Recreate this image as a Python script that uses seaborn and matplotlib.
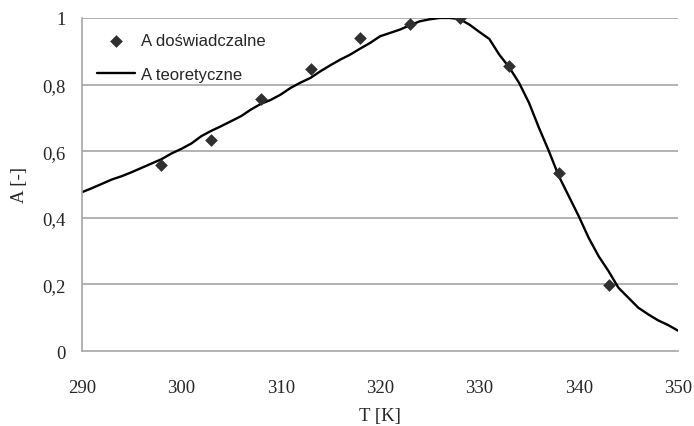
import numpy as np
import pandas as pd
import seaborn as sns
import matplotlib.pyplot as plt

# Measured points
t_exp = [298, 303, 308, 313, 318, 323, 328, 333, 338, 343]
a_exp = [0.559, 0.635, 0.757, 0.847, 0.940, 0.982, 1.000, 0.857, 0.535, 0.197]

# Theoretical curve
t_theo = list(range(290, 351))
a_theo = [0.477, 0.489, 0.502, 0.515, 0.525, 0.537, 0.550, 0.563, 0.576, 0.593,
          0.607, 0.623, 0.645, 0.661, 0.675, 0.690, 0.705, 0.725, 0.742, 0.754,
          0.770, 0.790, 0.806, 0.820, 0.840, 0.858, 0.875, 0.890, 0.908, 0.925,
          0.945, 0.955, 0.965, 0.978, 0.990, 0.996, 1.000, 1.000, 0.997, 0.980,
          0.958, 0.937, 0.890, 0.852, 0.805, 0.745, 0.670, 0.600, 0.525, 0.465,
          0.405, 0.340, 0.285, 0.240, 0.190, 0.160, 0.130, 0.110, 0.092, 0.078,
          0.061]

x_ticks = [290, 300, 310, 320, 330, 340, 350]
y_ticks = [0, 0.2, 0.4, 0.6, 0.8, 1.0]
y_labels = ['0', '0,2', '0,4', '0,6', '0,8', '1']

exp_df = pd.DataFrame({'T': t_exp, 'A': a_exp})
theo_df = pd.DataFrame({'T': t_theo, 'A': a_theo})

sns.set_style("white")
plt.rcParams['font.family'] = ['Liberation Serif', 'DejaVu Serif']

fig = plt.figure(figsize=(6.94, 4.27), dpi=100)
ax = fig.add_axes([0.1182, 0.1756, 0.8588, 0.78])

grid_col = '#a6a6a6'
for y in y_ticks[1:]:
    ax.axhline(y, color=grid_col, lw=1.2, zorder=0)

sns.scatterplot(data=exp_df, x='T', y='A', marker='D', s=42, color='#303030',
                edgecolor='#303030', linewidth=0, ax=ax, label='A doświadczalne', zorder=3)
sns.lineplot(data=theo_df, x='T', y='A', color='black', lw=1.7, ax=ax,
             label='A teoretyczne', zorder=2)

ax.set_xlim(290, 350)
ax.set_ylim(0, 1)
ax.set_xticks(x_ticks)
ax.set_yticks(y_ticks)
ax.set_yticklabels(y_labels)

for side in ['top', 'right']:
    ax.spines[side].set_visible(False)
for side in ['left', 'bottom']:
    ax.spines[side].set_color(grid_col)
    ax.spines[side].set_linewidth(1.2)

ax.tick_params(axis='x', direction='out', length=5, width=1.2, color=grid_col,
               labelsize=13.5, pad=15)
ax.tick_params(axis='y', direction='out', length=5, width=1.2, color=grid_col,
               labelsize=13.5, pad=7)

ax.set_xlabel('T [K]', fontsize=13.5, labelpad=8)
ax.set_ylabel('A [-]', fontsize=13.5, labelpad=10)

leg = ax.legend(loc='upper left', frameon=False, bbox_to_anchor=(0.0, 1.0),
                prop={'family': 'Liberation Sans', 'size': 12},
                handlelength=2.3, handletextpad=0.35, labelspacing=1.15)

fig.savefig('out.png', dpi=100)
